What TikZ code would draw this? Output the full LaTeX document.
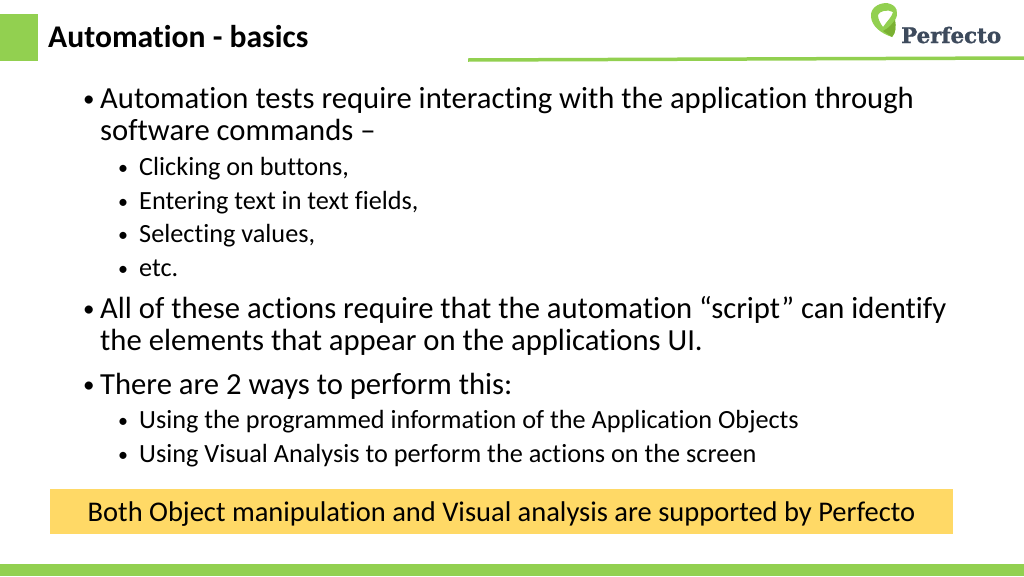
\documentclass[tikz,border=0pt]{standalone}
\usepackage{fontspec}
\setmainfont[Ligatures=CommonOff]{Carlito}
\newfontfamily\logofont[BoldFeatures={FakeBold=1.5}]{DejaVu Serif}
\usetikzlibrary{positioning}
\definecolor{slidegreen}{RGB}{146, 208, 80}
\definecolor{notebar}{RGB}{255, 217, 102}
\definecolor{logoslate}{RGB}{61, 74, 92}
\definecolor{leafdark}{RGB}{122, 176, 50}

\begin{document}
\begin{tikzpicture}[x=1pt, y=-1pt,
    mainitem/.style={anchor=base west, inner sep=0pt, font=\fontsize{30.65}{32}\selectfont},
    subitem/.style={anchor=base west, inner sep=0pt, font=\fontsize{26.25}{30}\selectfont},
    mainmark/.style={anchor=base west, inner sep=0pt, font=\fontsize{23}{32}\selectfont},
    submark/.style={anchor=base west, inner sep=0pt, font=\fontsize{20}{30}\selectfont},
    heading/.style={anchor=base west, inner sep=0pt, font=\fontsize{31.6}{32}\selectfont\bfseries}]
    \useasboundingbox (0, 0) rectangle (1024, 576);

    % Header
    \fill[slidegreen] (0, 14) rectangle (38, 61);
    \node[heading] (title) at (48, 47) {Automation - basics};
    \coordinate (ruleL) at (468, 60);
    \coordinate (ruleR) at (1024, 58);
    \draw[slidegreen, line width=3.5pt] (ruleL) -- (ruleR);

    % Logo
    \fill[slidegreen, even odd rule] (887, 3) .. controls (877, 3) and (870, 9) .. (871, 17)
        .. controls (872, 26) and (880, 33) .. (892, 37)
        .. controls (896, 33) and (896, 26) .. (895, 20)
        .. controls (899, 14) and (898, 5) .. (887, 3)
        (878, 15) .. controls (879, 11) and (888, 9) .. (893, 12)
        .. controls (892, 17) and (887, 21) .. (883, 27)
        .. controls (880, 23) and (878, 19) .. (878, 15);
    \fill[leafdark] (892, 37) .. controls (896, 33) and (896, 26) .. (895, 20)
        .. controls (892, 24) and (889, 28) .. (883, 31) .. controls (886, 33) and (889, 35) .. (892, 37);
    \node[anchor=base west, inner sep=0pt, text=logoslate, font=\logofont\fontsize{21.3}{24}\selectfont\bfseries] (logo) at (901, 43) {Perfecto};

    % Bullets, level 1
    \node[mainmark] (b1) at (83, 106) {•};
    \node[mainitem] (t1) at (100, 108) {Automation tests require interacting with the application through};
    \node[mainitem] (t1b) at (100, 140) {software commands –};
    \node[mainmark] (b2) at (83, 316) {•};
    \node[mainitem] (t2) at (100, 318) {All of these actions require that the automation “script” can identify};
    \node[mainitem] (t2b) at (100, 350) {the elements that appear on the applications UI.};
    \node[mainmark] (b3) at (83, 392) {•};
    \node[mainitem] (t3) at (100, 394) {There are 2 ways to perform this:};

    % Bullets, level 2
    \node[submark] (s1m) at (118, 174) {•};
    \node[subitem] (s1) at (139, 175) {Clicking on buttons,};
    \node[submark] (s2m) at (118, 208) {•};
    \node[subitem] (s2) at (139, 209) {Entering text in text fields,};
    \node[submark] (s3m) at (118, 241) {•};
    \node[subitem] (s3) at (139, 242) {Selecting values,};
    \node[submark] (s4m) at (118, 275) {•};
    \node[subitem] (s4) at (139, 276) {etc.};
    \node[submark] (s5m) at (118, 427) {•};
    \node[subitem] (s5) at (139, 428) {Using the programmed information of the Application Objects};
    \node[submark] (s6m) at (118, 461) {•};
    \node[subitem] (s6) at (139, 462) {Using Visual Analysis to perform the actions on the screen};

    % Note bar
    \fill[notebar] (50, 489) rectangle (953, 534);
    \node[anchor=base, inner sep=0pt, font=\fontsize{28.5}{32}\selectfont] (note) at (501.5, 521) {Both Object manipulation and Visual analysis are supported by Perfecto};

    % Footer
    \fill[slidegreen] (0, 564) rectangle (1024, 576);
\end{tikzpicture}
\end{document}
